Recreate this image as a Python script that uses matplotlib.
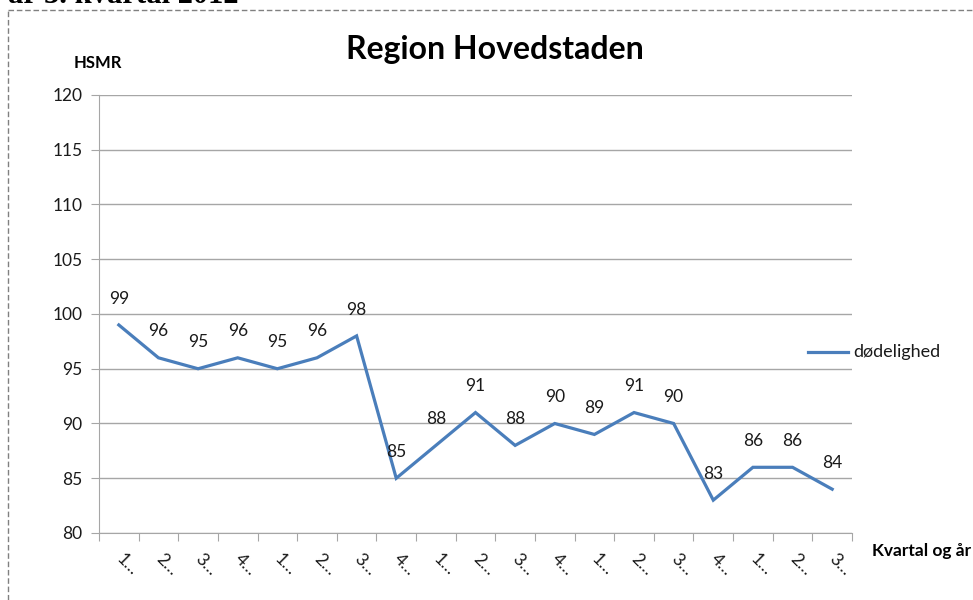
import matplotlib.pyplot as plt
from matplotlib.lines import Line2D

plt.rcParams['font.family'] = ['Lato', 'DejaVu Sans']

# HSMR per kvartal
quarters = ['1…', '2…', '3…', '4…'] * 4 + ['1…', '2…', '3…']
hsmr = [99, 96, 95, 96, 95, 96, 98, 85, 88, 91, 88, 90, 89, 91, 90, 83, 86, 86, 84]
series_name = 'dødelighed'

blue = '#4A7EBB'
grid_grey = '#A6A6A6'
text_col = '#1a1a1a'

fig = plt.figure(figsize=(9.73, 6.0), dpi=100)
ax = fig.add_axes([99 / 973, 1 - 533 / 600, (852 - 99) / 973, (533 - 95) / 600])

x = list(range(len(hsmr)))
ax.plot(x, hsmr, color=blue, linewidth=2.3, solid_joinstyle='miter')

for xi, v in zip(x, hsmr):
    ax.annotate(str(v), (xi, v), xytext=(0, 19), textcoords='offset points',
                ha='center', va='center', fontsize=12.5, color=text_col)

ax.set_xlim(-0.5, len(hsmr) - 0.5)
ax.set_ylim(80, 120)
ax.set_yticks(range(80, 121, 5))
ax.yaxis.grid(True, color=grid_grey, linewidth=1)
ax.set_axisbelow(True)

# category boundaries get the tick marks, labels sit at the centres
ax.set_xticks([i - 0.5 for i in range(len(hsmr) + 1)])
ax.set_xticklabels([])
ax.set_xticks(x, minor=True)
ax.set_xticklabels(quarters, minor=True, rotation=-45, ha='left', va='center',
                   rotation_mode='anchor', fontsize=12.5, color=text_col)
ax.tick_params(axis='x', which='major', length=6, color=grid_grey, direction='out')
ax.tick_params(axis='x', which='minor', length=0, pad=17)
ax.tick_params(axis='y', length=6, color=grid_grey, labelsize=12.5, labelcolor=text_col, pad=6)

for s in ['top', 'right']:
    ax.spines[s].set_visible(False)
for s in ['left', 'bottom']:
    ax.spines[s].set_color(grid_grey)

fig.text(495 / 973, 1 - 50 / 600, 'Region Hovedstaden', ha='center', va='center',
         fontsize=23, fontweight='bold', color='black')
fig.text(98 / 973, 1 - 63 / 600, 'HSMR', ha='center', va='center',
         fontsize=12, fontweight='bold', color='black')
fig.text(872 / 973, 1 - 551 / 600, 'Kvartal og år', ha='left', va='center',
         fontsize=12.5, fontweight='bold', color='black')

# legend
fig.add_artist(Line2D([808 / 973, 848 / 973], [1 - 352 / 600] * 2, color=blue, linewidth=2.3))
fig.text(853 / 973, 1 - 352 / 600, series_name, ha='left', va='center',
         fontsize=13, color=text_col)

# dashed frame and clipped heading from the surrounding document
fig.add_artist(Line2D([8 / 973, 8 / 973], [0, 1 - 10 / 600], color='#808080',
                      linewidth=1, linestyle=(0, (4, 2))))
fig.add_artist(Line2D([8 / 973, 1], [1 - 10 / 600] * 2, color='#808080',
                      linewidth=1, linestyle=(0, (4, 2))))
fig.text(8 / 973, 1 - 3 / 600, 'år 3. kvartal 2012', ha='left', va='baseline',
         fontsize=22, fontweight='bold', family='Liberation Serif', color='black')

fig.savefig('out.png', dpi=100, facecolor='white')
